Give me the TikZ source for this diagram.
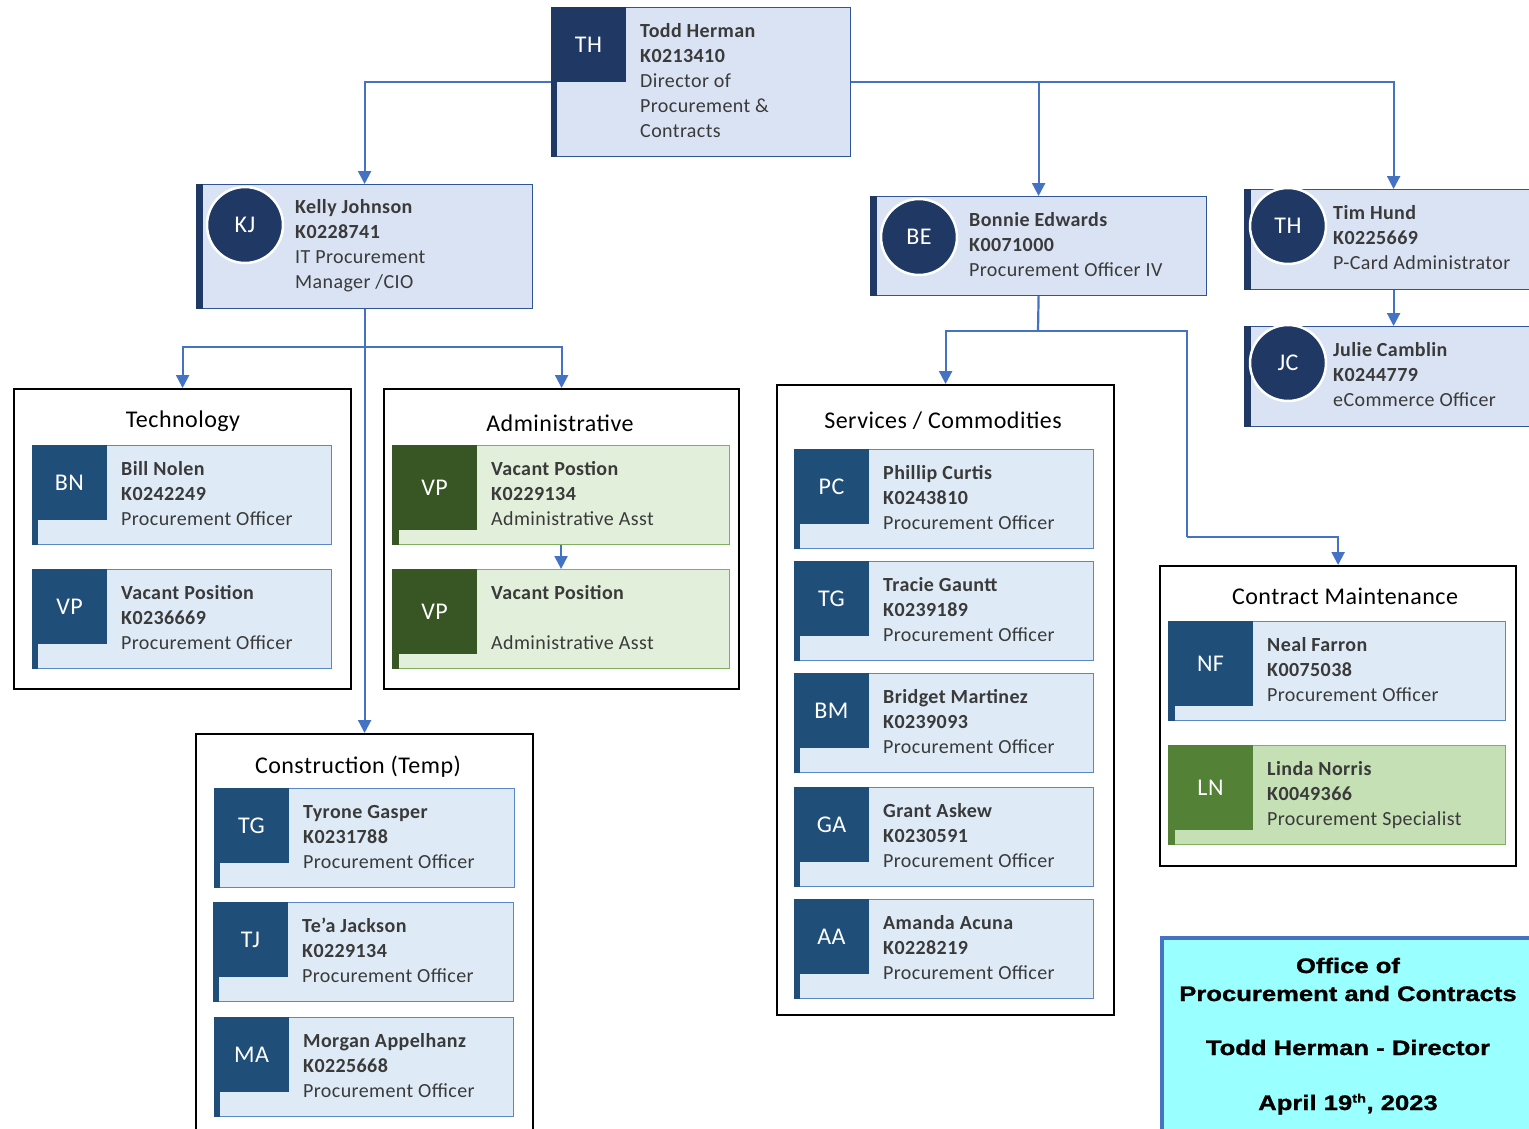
\documentclass[tikz,border=0pt]{standalone}
\usepackage{fontspec}
\setmainfont{Carlito}[LetterSpace=2.0]
\newfontfamily\ttlfont[FakeStretch=1.22,FakeBold=1.2]{Liberation Sans}
\usetikzlibrary{arrows.meta,calc}
\definecolor{navy}{HTML}{1F3864}
\definecolor{bsq}{HTML}{1F4E79}
\definecolor{bfill}{HTML}{DEEBF7}
\definecolor{bborder}{HTML}{5A87C5}
\definecolor{gsq}{HTML}{375623}
\definecolor{gfill}{HTML}{E2EFDA}
\definecolor{gborder}{HTML}{7FAF5F}
\definecolor{lsq}{HTML}{538135}
\definecolor{lfill}{HTML}{C5E0B4}
\definecolor{lborder}{HTML}{7FAF5F}
\definecolor{topfill}{HTML}{DAE3F3}
\definecolor{topborder}{HTML}{2F5597}
\definecolor{connc}{HTML}{4472C4}
\definecolor{textc}{HTML}{3A3A3A}
\definecolor{cyanbg}{HTML}{99FFFF}
\tikzset{
 conn/.style={draw=connc, line width=2.2pt, -{Triangle[length=13pt,width=13pt]}},
 connl/.style={draw=connc, line width=2.2pt},
 group/.style={draw=black, line width=2.2pt, fill=white, inner sep=0, anchor=north west},
 gtitle/.style={font=\fontsize{24}{29}\selectfont, text=black, anchor=base, inner sep=0},
 topcard/.style={draw=topborder, fill=topfill, line width=1.2pt, inner sep=0, anchor=north west},
 initial/.style={text=white, font=\fontsize{24}{29}\selectfont, inner sep=0},
 avatar/.style={circle, fill=navy, draw=white, line width=2.5pt, minimum size=76pt, inner sep=0, text=white, font=\fontsize{24}{29}\selectfont},
 info/.style={text=textc, font=\fontsize{20}{25}\selectfont, inner sep=0, anchor=base west},
 ttl/.style={font=\ttlfont\bfseries\fontsize{21}{25}\selectfont, anchor=base, inner sep=0, text=black},
}
\newcommand\info[3]{\begin{tabular}[t]{@{}l@{}}\textbf{#1}\\\textbf{#2}\\#3\end{tabular}}
% #1 name #2 x #3 y #4 width #5 square #6 scheme #7 initials #8 text
\newcommand\pcard[8]{%
 \node[draw=#6border, fill=#6fill, line width=1.1pt, minimum width=#4pt, minimum height=99pt, inner sep=0, anchor=north west] (#1) at (#2,#3) {};
 \fill[#6sq] (#1.north west) rectangle ++(#5,#5);
 \fill[#6sq] (#1.north west) rectangle ($(#1.south west)+(#5/12,0)$);
 \node[initial] (#1i) at ($(#1.north west)+(#5/2,#5/2)$) {#7};
 \node[info] (#1t) at ($(#1.north west)+(#5+14,30)$) {#8};
}
\begin{document}
\begin{tikzpicture}[x=1pt,y=-1pt]
\useasboundingbox (0,0) rectangle (1529,1128);
\clip (0,0) rectangle (1529,1128);
\fill[white] (0,0) rectangle (1529,1128);

% ---------- top level ----------
\node[topcard, minimum width=299pt, minimum height=149pt] (th) at (551,7) {};
\fill[navy] (th.north west) rectangle ++(75,75);
\fill[navy] (th.north west) rectangle ($(th.south west)+(6,0)$);
\node[initial] (thi) at ($(th.north west)+(37.5,37.5)$) {TH};
\node[info] (tht) at (640,37.5) {\begin{tabular}[t]{@{}l@{}}\textbf{Todd Herman}\\\textbf{K0213410}\\Director of\\Procurement \&\\Contracts\end{tabular}};

\node[topcard, minimum width=336pt, minimum height=124pt] (kj) at (196,184) {};
\fill[navy] (kj.north west) rectangle ($(kj.south west)+(7,0)$);
\node[avatar] (kja) at (245,225) {KJ};
\node[info] (kjt) at (295,213.5) {\info{Kelly Johnson}{K0228741}{IT Procurement\\Manager /CIO}};

\node[topcard, minimum width=336pt, minimum height=99pt] (be) at (870,196) {};
\fill[navy] (be.north west) rectangle ($(be.south west)+(7,0)$);
\node[avatar] (bea) at (919,237) {BE};
\node[info] (bet) at (969,226.5) {\info{Bonnie Edwards}{K0071000}{Procurement Officer IV}};

\node[topcard, minimum width=298pt, minimum height=100pt] (tim) at (1244,189) {};
\fill[navy] (tim.north west) rectangle ($(tim.south west)+(7,0)$);
\node[avatar] (tima) at (1288,226) {TH};
\node[info] (timt) at (1333,219.5) {\info{Tim Hund}{K0225669}{P-Card Administrator}};

\node[topcard, minimum width=298pt, minimum height=100pt] (jul) at (1244,326) {};
\fill[navy] (jul.north west) rectangle ($(jul.south west)+(7,0)$);
\node[avatar] (jula) at (1288,363) {JC};
\node[info] (jult) at (1333,356.5) {\info{Julie Camblin}{K0244779}{eCommerce Officer}};

% ---------- groups ----------
\node[group, minimum width=337pt, minimum height=300pt] (tech) at (13,388) {};
\node[gtitle] (techt) at (183,427) {Technology};
\pcard{bn}{32}{445}{299}{75}{b}{BN}{\info{Bill Nolen}{K0242249}{Procurement Officer}}
\pcard{vpa}{32}{569}{299}{75}{b}{VP}{\info{Vacant Position}{K0236669}{Procurement Officer}}

\node[group, minimum width=355pt, minimum height=300pt] (adm) at (383,388) {};
\node[gtitle] (admt) at (560,431) {Administrative};
\pcard{vpb}{392}{445}{337}{85}{g}{VP}{\info{Vacant Postion}{K0229134}{Administrative Asst}}
\pcard{vpc}{392}{569}{337}{85}{g}{VP}{\info{Vacant Position}{}{Administrative Asst}}

\node[group, minimum width=337pt, minimum height=420pt] (con) at (195,733) {};
\node[gtitle] (cont) at (358,773) {Construction (Temp)};
\pcard{tga}{214}{788}{300}{75}{b}{TG}{\info{Tyrone Gasper}{K0231788}{Procurement Officer}}
\pcard{tj}{213}{902}{300}{75}{b}{TJ}{\info{Te'a Jackson}{K0229134}{Procurement Officer}}
\pcard{ma}{214}{1017}{299}{75}{b}{MA}{\info{Morgan Appelhanz}{K0225668}{Procurement Officer}}

\node[group, minimum width=337pt, minimum height=630pt] (serv) at (776,384) {};
\node[gtitle] (servt) at (943,428) {Services / Commodities};
\pcard{pc}{794}{449}{299}{75}{b}{PC}{\info{Phillip Curtis}{K0243810}{Procurement Officer}}
\pcard{tgb}{794}{561}{299}{75}{b}{TG}{\info{Tracie Gauntt}{K0239189}{Procurement Officer}}
\pcard{bm}{794}{673}{299}{75}{b}{BM}{\info{Bridget Martinez}{K0239093}{Procurement Officer}}
\pcard{ga}{794}{787}{299}{75}{b}{GA}{\info{Grant Askew}{K0230591}{Procurement Officer}}
\pcard{aa}{794}{899}{299}{75}{b}{AA}{\info{Amanda Acuna}{K0228219}{Procurement Officer}}

\node[group, minimum width=356pt, minimum height=300pt] (cm) at (1159,565) {};
\node[gtitle] (cmt) at (1345,604) {Contract Maintenance};
\pcard{nf}{1168}{621}{337}{85}{b}{NF}{\info{Neal Farron}{K0075038}{Procurement Officer}}
\pcard{ln}{1168}{745}{337}{85}{l}{LN}{\info{Linda Norris}{K0049366}{Procurement Specialist}}

% ---------- connectors ----------
\draw[conn] (th.west) -| (kj.north);
\draw[conn] (th.east) -| (be.north);
\draw[conn] (th.east) -| (tim.north);
\draw[conn] (tim.south) -- (jul.north);
\coordinate (kjj) at (364,347);
\draw[conn] (kj.south) -- (con.north);
\draw[conn] (kjj) -| (tech.north);
\draw[conn] (kjj) -| (adm.north);
\draw[conn] (vpb.south) -- (vpc.north);
\coordinate (bej) at (1038,331);
\coordinate (bek) at (1187,537);
\draw[connl] (be.south) -- (bej);
\draw[conn] (bej) -| (serv.north);
\draw[connl] (bej) -| (bek);
\draw[conn] (bek) -| (cm.north);

% ---------- title box ----------
\node[draw=connc, line width=4pt, fill=cyanbg, anchor=north west, minimum width=400pt, minimum height=220pt, inner sep=0] (ttlbox) at (1160,936) {};
\node[ttl] (l1) at (1348,973) {Office of};
\node[ttl] (l2) at (1348,1001) {Procurement and Contracts};
\node[ttl] (l3) at (1348,1055) {Todd Herman - Director};
\node[ttl] (l4) at (1348,1110) {April 19\textsuperscript{\fontsize{12}{14}\selectfont th}, 2023};
\end{tikzpicture}
\end{document}
